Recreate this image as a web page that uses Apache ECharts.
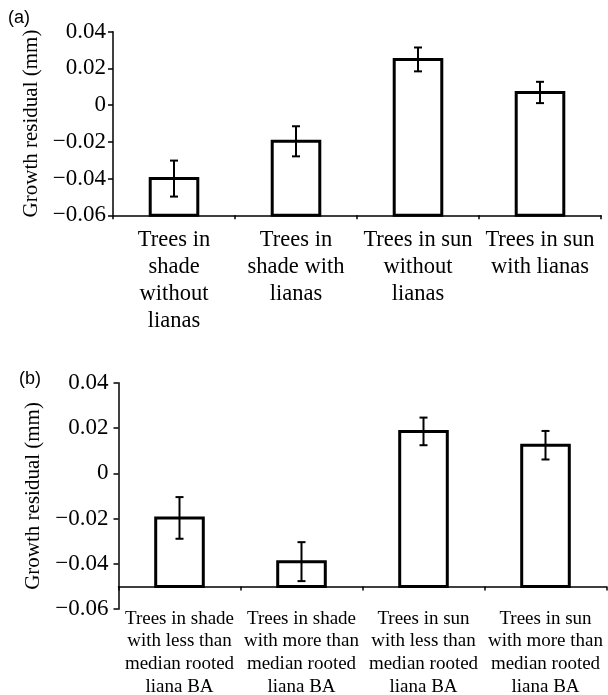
<!DOCTYPE html>
<html>
<head>
<meta charset="utf-8">
<script src="https://cdn.jsdelivr.net/npm/echarts@6/dist/echarts.min.js"></script>
<style>
html,body{margin:0;padding:0;background:#fff;}
#chart{width:608px;height:695px;}
</style>
</head>
<body>
<div id="chart"></div>
<script>
// ---- data ----
const categoriesA = [
  'Trees in\nshade\nwithout\nlianas',
  'Trees in\nshade with\nlianas',
  'Trees in sun\nwithout\nlianas',
  'Trees in sun\nwith lianas'
];
const valuesA = [-0.040, -0.0197, 0.0249, 0.0069];
const errorsA = [0.0098, 0.0082, 0.0065, 0.0058];
const baseA = -0.06;

const categoriesB = [
  'Trees in shade\nwith less than\nmedian rooted\nliana BA',
  'Trees in shade\nwith more than\nmedian rooted\nliana BA',
  'Trees in sun\nwith less than\nmedian rooted\nliana BA',
  'Trees in sun\nwith more than\nmedian rooted\nliana BA'
];
const valuesB = [-0.0197, -0.039, 0.0185, 0.0124];
const errorsB = [0.0092, 0.0086, 0.0061, 0.0063];
const baseB = -0.05;

const yMin = -0.06, yMax = 0.04, yStep = 0.02;
const yAxisTitle = 'Growth residual (mm)';

// ---- layout ----
const gridA = {left: 113, top: 31.7, width: 488, height: 183.6, outerBoundsMode: 'none', containLabel: false};
const gridB = {left: 118.5, top: 382.7, width: 488, height: 226.5, outerBoundsMode: 'none', containLabel: false};
const serif = 'Liberation Serif';

function fmt(v){
  if (Math.abs(v) < 1e-9) return '0';
  return (v < 0 ? '\u2212' : '') + Math.abs(v).toFixed(2);
}

function makeRender(base){
  return function(params, api){
    const i = api.value(0), v = api.value(1), e = api.value(2);
    const p0 = api.coord([i, base]);
    const p1 = api.coord([i, v]);
    const w = api.size([1, 0])[0] * 0.39;
    const t = api.coord([i, v + e]);
    const b = api.coord([i, v - e]);
    const cap = 4;
    const ls = {stroke: '#000', lineWidth: 2};
    return {type: 'group', children: [
      {type: 'rect', shape: {x: p0[0] - w/2, y: Math.min(p0[1], p1[1]), width: w, height: Math.abs(p1[1] - p0[1])},
        style: {fill: '#fff', stroke: '#000', lineWidth: 3}},
      {type: 'line', shape: {x1: t[0], y1: t[1], x2: b[0], y2: b[1]}, style: ls},
      {type: 'line', shape: {x1: t[0]-cap, y1: t[1], x2: t[0]+cap, y2: t[1]}, style: ls},
      {type: 'line', shape: {x1: b[0]-cap, y1: b[1], x2: b[0]+cap, y2: b[1]}, style: ls}
    ]};
  };
}

function yAxisCfg(gridIndex, nameGap, labelMargin){
  return {
    type: 'value', gridIndex: gridIndex, min: yMin, max: yMax, interval: yStep,
    name: yAxisTitle, nameLocation: 'middle', nameGap: nameGap,
    nameTextStyle: {fontFamily: serif, fontSize: 21, color: '#000'},
    axisLine: {show: true, lineStyle: {color: '#000', width: 1.5}},
    axisTick: {show: true, length: 5, lineStyle: {color: '#000', width: 1.5}},
    axisLabel: {formatter: fmt, fontFamily: serif, fontSize: 23, color: '#000', margin: labelMargin},
    splitLine: {show: false}
  };
}

const offsetB = -gridB.height * (baseB - yMin) / (yMax - yMin);

const option = {
  backgroundColor: '#fff',
  animation: false,
  graphic: [
    {type: 'text', left: 8, top: 9, style: {text: '(a)', font: '18px "Liberation Sans"', fill: '#000'}},
    {type: 'text', left: 19, top: 370, style: {text: '(b)', font: '18px "Liberation Sans"', fill: '#000'}}
  ],
  grid: [
    Object.assign({}, gridA),
    Object.assign({}, gridB)
  ],
  xAxis: [
    {
      type: 'category', gridIndex: 0, position: 'bottom', data: categoriesA,
      axisLine: {show: true, onZero: false, lineStyle: {color: '#000', width: 1.5}},
      axisTick: {show: true, length: 4, lineStyle: {color: '#000', width: 1.5}},
      axisLabel: {interval: 0, fontFamily: serif, fontSize: 22.5, lineHeight: 27, color: '#000', margin: 11, align: 'center'}
    },
    {
      type: 'category', gridIndex: 1, position: 'bottom', data: categoriesB,
      axisLine: {show: false, onZero: false},
      axisTick: {show: false},
      axisLabel: {interval: 0, fontFamily: serif, fontSize: 19, lineHeight: 22.8, color: '#000', margin: -2, align: 'center'}
    },
    {
      type: 'category', gridIndex: 1, position: 'bottom', data: categoriesB, offset: offsetB,
      axisLine: {show: true, onZero: false, lineStyle: {color: '#000', width: 1.5}},
      axisTick: {show: true, length: 4, lineStyle: {color: '#000', width: 1.5}},
      axisLabel: {show: false}
    }
  ],
  yAxis: [
    yAxisCfg(0, 62, 7),
    yAxisCfg(1, 66, 10)
  ],
  series: [
    {
      type: 'custom', xAxisIndex: 0, yAxisIndex: 0,
      renderItem: makeRender(baseA),
      encode: {x: 0, y: 1},
      data: valuesA.map((v, i) => [i, v, errorsA[i]])
    },
    {
      type: 'custom', xAxisIndex: 1, yAxisIndex: 1,
      renderItem: makeRender(baseB),
      encode: {x: 0, y: 1},
      data: valuesB.map((v, i) => [i, v, errorsB[i]])
    }
  ]
};

const chart = echarts.init(document.getElementById('chart'), null, {renderer: 'canvas'});
chart.setOption(option);
</script>
</body>
</html>
